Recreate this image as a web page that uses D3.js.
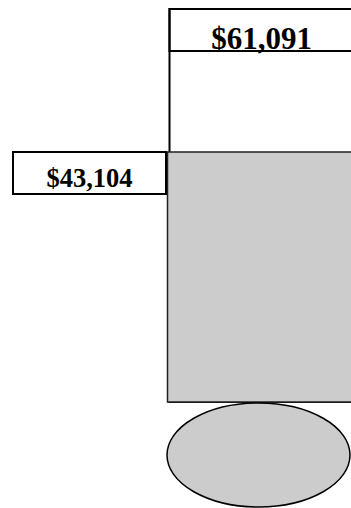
<!DOCTYPE html>
<html><head><meta charset="utf-8">
<script src="https://cdn.jsdelivr.net/npm/d3@7"></script>
<style>html,body{margin:0;padding:0;background:#fff;overflow:hidden}</style>
</head><body><svg id="c" width="351" height="508"></svg>
<script>
const series = ["Goal", "Raised"];
const values = [61091, 43104];
const valueLabels = ["$61,091", "$43,104"];

const svg = d3.select("#c");
const fmt = d3.format("$,");
const y = d3.scaleLinear().domain([11657, 61091]).range([402, 9]);
const base = y.range()[0];
const font = "'Liberation Serif','Times New Roman',serif";

// Goal outline bar
svg.append("rect")
  .attr("x", 169.5).attr("y", y(values[0]))
  .attr("width", 220).attr("height", base - y(values[0]))
  .attr("fill", "#fff").attr("stroke", "#000").attr("stroke-width", 2);

// Goal label box
svg.append("rect")
  .attr("x", 169.5).attr("y", y(values[0]))
  .attr("width", 220).attr("height", 42)
  .attr("fill", "none").attr("stroke", "#000").attr("stroke-width", 2);
svg.append("text")
  .attr("x", 261.5).attr("y", y(values[0]) + 39.5)
  .attr("text-anchor", "middle")
  .attr("font-family", font).attr("font-weight", "bold").attr("font-size", 31)
  .attr("fill", "#000")
  .text(valueLabels[0]);

// Raised grey bar
svg.append("rect")
  .attr("x", 167.5).attr("y", y(values[1]))
  .attr("width", 220).attr("height", base - y(values[1]))
  .attr("fill", "#cccccc").attr("stroke", "#222").attr("stroke-width", 1.5);

// Raised label box
svg.append("rect")
  .attr("x", 13).attr("y", y(values[1]))
  .attr("width", 153).attr("height", 42)
  .attr("fill", "#fff").attr("stroke", "#000").attr("stroke-width", 2);
svg.append("text")
  .attr("x", 89.5).attr("y", y(values[1]) + 35.5)
  .attr("text-anchor", "middle")
  .attr("font-family", font).attr("font-weight", "bold").attr("font-size", 26.5)
  .attr("fill", "#000")
  .text(valueLabels[1]);

// Bulb
svg.append("ellipse")
  .attr("cx", 258.5).attr("cy", 455)
  .attr("rx", 91.5).attr("ry", 52)
  .attr("fill", "#cccccc").attr("stroke", "#000").attr("stroke-width", 1.5);
</script></body></html>
